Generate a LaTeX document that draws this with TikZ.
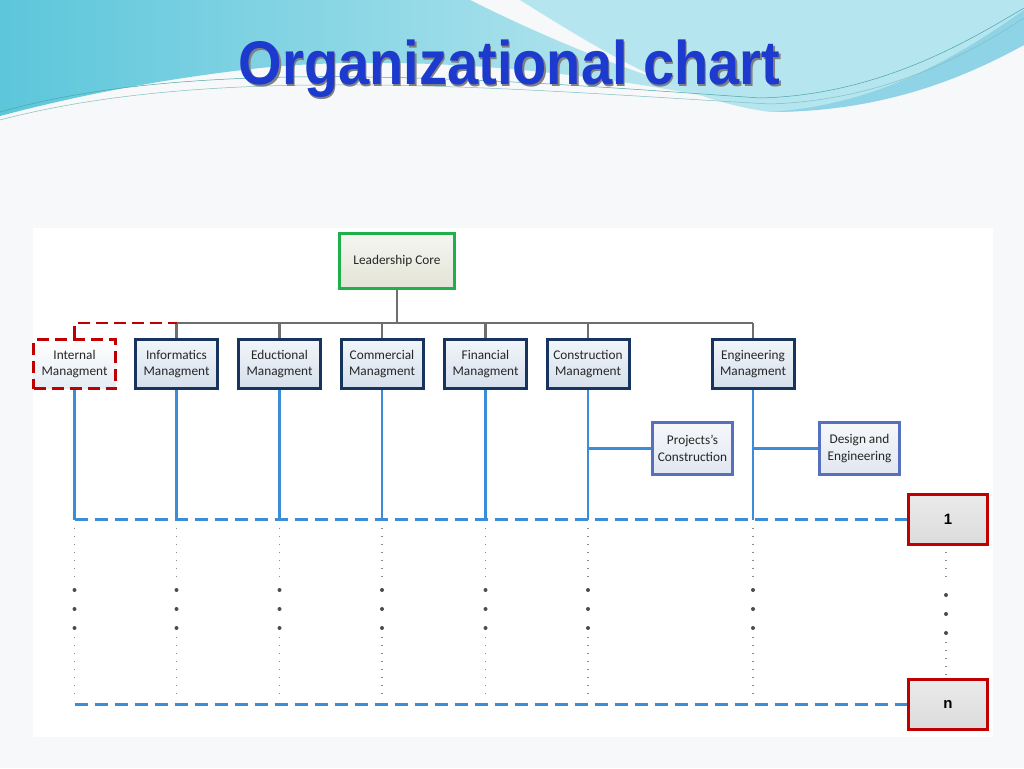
\documentclass[tikz,border=0pt]{standalone}
\usepackage{fontspec}
\setmainfont{Carlito}
\newfontfamily\titlefont{Liberation Sans}
\usetikzlibrary{calc,positioning}

\definecolor{navyline}{HTML}{17345F}
\definecolor{mgmtfill}{HTML}{D5DFEC}
\definecolor{coregreen}{HTML}{1FAF4B}
\definecolor{corefill}{HTML}{E3E4D6}
\definecolor{redline}{HTML}{C00000}
\definecolor{subline}{HTML}{5670C0}
\definecolor{subfill}{HTML}{E1E6F0}
\definecolor{linkblue}{HTML}{3A8DD6}
\definecolor{busgray}{HTML}{6E6E6E}
\definecolor{titleblue}{HTML}{1C3ACD}
\definecolor{wavecyan}{HTML}{5CC6DB}
\definecolor{wavelight}{HTML}{B5E5EE}
\definecolor{wavedeep}{HTML}{8FD3E6}
\definecolor{slidebg}{HTML}{F6F8F9}
\definecolor{boxtext}{HTML}{262626}

\tikzset{
  core/.style={draw=coregreen, line width=3pt, top color=corefill!35, bottom color=corefill,
    minimum width=115pt, minimum height=55pt, text=boxtext, font=\fontsize{13.3}{15}\selectfont},
  mgmt/.style={draw=navyline, line width=3pt, top color=mgmtfill!30, bottom color=mgmtfill,
    minimum width=82pt, minimum height=49pt, inner sep=0pt, align=center, text=boxtext,
    font=\fontsize{13.3}{16.5}\selectfont},
  intmgmt/.style={mgmt, draw=redline, dash pattern=on 12pt off 6pt, top color=white, bottom color=mgmtfill!60},
  sub/.style={mgmt, draw=subline, minimum width=80pt, minimum height=52pt, top color=subfill!30, bottom color=subfill},
  level/.style={draw=redline, line width=3pt, top color=white!92!black, bottom color=white!86!black,
    minimum width=79pt, minimum height=50pt, font=\titlefont\bfseries\fontsize{15}{16}\selectfont},
  bus/.style={busgray, line width=2.2pt},
  reddash/.style={redline, line width=2.4pt, dash pattern=on 12pt off 6pt},
  link/.style={linkblue, line width=2.2pt},
  rowdash/.style={linkblue, line width=2.4pt, dash pattern=on 13pt off 7pt},
  dotcol/.style={gray!90, line width=1.4pt, dash pattern=on 0.9pt off 7.1pt},
}

\begin{document}
\begin{tikzpicture}[x=1pt, y=-1pt]

\useasboundingbox (0,0) rectangle (1024,768);
\fill[slidebg] (0,0) rectangle (1024,768);

% top waves
\fill[wavelight] (520,0) -- (1024,0) -- (1024,25) .. controls (950,75) and (860,112) .. (770,112)
  .. controls (680,100) and (600,50) .. (520,0) -- cycle;
\fill[wavedeep] (1024,10) .. controls (960,55) and (880,105) .. (770,112) .. controls (880,112) and (960,80) .. (1024,45) -- cycle;
\shade[left color=wavecyan, right color=wavelight!80] (0,0) -- (470,0) .. controls (560,45) and (660,85) .. (760,108)
  .. controls (620,75) and (420,52) .. (260,68) .. controls (150,80) and (60,100) .. (0,116) -- cycle;
\draw[teal!70, line width=0.5pt] (0,112) .. controls (200,55) and (500,80) .. (760,98) .. controls (880,95) and (970,40) .. (1024,8);
\draw[teal!50, line width=0.5pt] (0,120) .. controls (220,62) and (520,90) .. (770,104) .. controls (890,100) and (975,50) .. (1024,18);

% title
\node[text=black!50, font=\titlefont\bfseries\fontsize{56}{60}\selectfont, anchor=base, yscale=1.1, transform shape] (titleshadow) at (511,86) {Organizational chart};
\node[text=titleblue, font=\titlefont\bfseries\fontsize{56}{60}\selectfont, anchor=base, yscale=1.1, transform shape] (title) at (509.5,84) {Organizational chart};

% chart panel
\fill[white] (33,228) rectangle (993,737);

% boxes
\node[core] (core) at (397,261) {Leadership Core};

\node[intmgmt] (intern) at (74.5,364) {Internal\\Managment};
\node[mgmt] (info) at (176.5,364) {Informatics\\Managment};
\node[mgmt] (educ) at (279.5,364) {Eductional\\Managment};
\node[mgmt] (comm) at (382,364) {Commercial\\Managment};
\node[mgmt] (fin) at (485.5,364) {Financial\\Managment};
\node[mgmt] (constr) at (588,364) {Construction\\Managment};
\node[mgmt] (eng) at (753,364) {Engineering\\Managment};

\node[sub] (projc) at (692.5,448.5) {Projects’s\\Construction};
\node[sub] (design) at (859.5,448.5) {Design and\\Engineering};

\node[level] (one) at (948,519.5) {1};
\node[level] (last) at (948,704.5) {n};

% tree lines
\coordinate (busL) at (176.5,323);
\coordinate (busR) at (753,323);
\draw[bus] (core) -- (core |- busL);
\draw[bus] (busL) -- (busR);
\draw[bus] (info) -- (info |- busL);
\draw[bus] (educ) -- (educ |- busL);
\draw[bus] (comm) -- (comm |- busL);
\draw[bus] (fin) -- (fin |- busL);
\draw[bus] (constr) -- (constr |- busL);
\draw[bus] (eng) -- (eng |- busL);
\draw[reddash] (intern.north) -- (intern.north |- busL) -- (busL);

\draw[link] (intern) -- (intern |- one.west);
\draw[link] (info) -- (info |- one.west);
\draw[link] (educ) -- (educ |- one.west);
\draw[link] (comm) -- (comm |- one.west);
\draw[link] (fin) -- (fin |- one.west);
\draw[link] (constr) -- (constr |- one.west);
\draw[link] (eng) -- (eng |- one.west);
\draw[link] (constr |- projc.west) -- (projc.west);
\draw[link] (eng |- design.west) -- (design.west);

\draw[rowdash] (intern |- one.west) -- (one.west);
\draw[rowdash] (intern |- last.west) -- (last.west);

% dotted columns
\foreach \n in {intern,info,educ,comm,fin,constr,eng}{
  \draw[dotcol] ($(\n |- one.west)+(0,8)$) -- ++(0,50);
  \draw[dotcol] ($(\n |- last.west)+(0,-68)$) -- ++(0,64);
  \fill[black!70] ($(\n |- one.west)+(0,70.5)$) circle (2) ++(0,19) circle (2) ++(0,19) circle (2);
}
\draw[dotcol] ($(one.south)+(-2,6)$) -- ++(0,30);
\draw[dotcol] ($(last.north)+(-2,-36)$) -- ++(0,34);
\fill[black!70] ($(one.south)+(-2,49)$) circle (2) ++(0,19) circle (2) ++(0,19) circle (2);

\end{tikzpicture}
\end{document}
